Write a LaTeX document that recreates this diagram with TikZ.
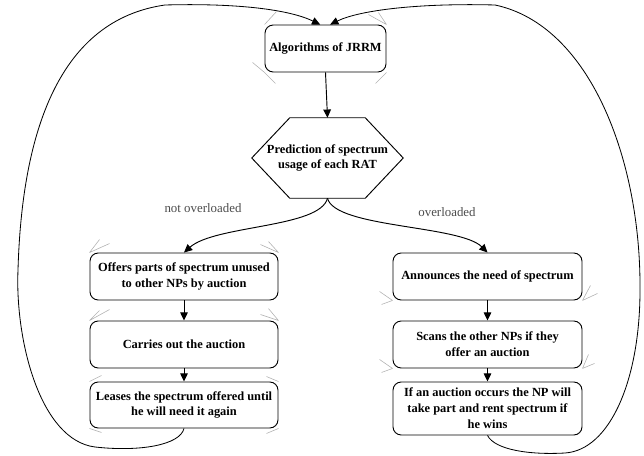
\documentclass[tikz,border=0pt]{standalone}
\usepackage{fontspec}
\setmainfont{Liberation Serif}
\usetikzlibrary{arrows.meta}

\tikzset{
  box/.style={draw, rounded corners=7pt, line width=0.8pt, align=center,
    font=\bfseries\fontsize{10.6}{13.6}\selectfont, inner sep=2pt},
  flow/.style={-{Triangle[length=7pt,width=6.5pt]}, line width=0.8pt},
  loopline/.style={flow, line width=0.7pt},
  branchlabel/.style={text=black!70, font=\fontsize{11}{13}\selectfont},
  tickmark/.style={gray!60, line width=0.5pt},
}

\begin{document}
\begin{tikzpicture}[x=0.03cm, y=-0.03cm]
  \useasboundingbox (0,0) rectangle (644,456);

  % main chain
  \node[box, minimum width=3.63cm, minimum height=1.41cm] (alg) at (325.5,48.5) {Algorithms of JRRM};
  \node[align=center, font=\bfseries\fontsize{10.6}{13.6}\selectfont, minimum width=4.53cm,
    minimum height=2.4cm, inner sep=0pt] (pred) at (327.5,158) {Prediction of spectrum\\usage of each RAT};
  \draw[line width=0.8pt] (pred.west) -- ([xshift=1.14cm]pred.north west) -- ([xshift=-1.14cm]pred.north east)
    -- (pred.east) -- ([xshift=-1.14cm]pred.south east) -- ([xshift=1.14cm]pred.south west) -- cycle;

  % left column
  \node[box, minimum width=5.64cm, minimum height=1.41cm] (offers) at (184,276.5) {Offers parts of spectrum unused\\to other NPs by auction};
  \node[box, minimum width=5.64cm, minimum height=1.41cm] (carries) at (184,344.5) {Carries out the auction};
  \node[box, minimum width=5.64cm, minimum height=1.38cm] (leases) at (184,405) {Leases the spectrum offered until\\he will need it again};

  % right column
  \node[box, minimum width=5.67cm, minimum height=1.41cm] (announce) at (487.5,276.5) {Announces the need of spectrum};
  \node[box, minimum width=5.67cm, minimum height=1.41cm] (scans) at (487.5,344.5) {Scans the other NPs if they\\offer an auction};
  \node[box, minimum width=5.67cm, minimum height=1.59cm] (rent) at (487.5,408.5) {If an auction occurs the NP will\\take part and rent spectrum if\\he wins};

  \node[branchlabel] (lblnot) at (203,208) {not overloaded};
  \node[branchlabel] (lblover) at (447,212) {overloaded};

  % arrows
  \draw[flow] (alg.south) -- (pred.north);
  \draw[flow] (pred.south) .. controls (320,228) and (215,225) .. (offers.north);
  \draw[flow] (pred.south) .. controls (335,228) and (460,225) .. (announce.north);
  \draw[flow] (offers) -- (carries);
  \draw[flow] (carries) -- (leases);
  \draw[flow] (announce) -- (scans);
  \draw[flow] (scans) -- (rent);

  % loops back to the top
  \draw[loopline] (leases.south) .. controls (180,445) and (140,452) .. (95,447)
    .. controls (40,440) and (15,340) .. (18,270)
    .. controls (22,130) and (60,20) .. (165,5)
    .. controls (240,3) and (290,10) .. ([xshift=-0.16cm]alg.north);
  \draw[loopline] (rent.south) .. controls (495,450) and (530,455) .. (565,453)
    .. controls (610,450) and (640,380) .. (640,290)
    .. controls (641,160) and (590,25) .. (495,5)
    .. controls (420,3) and (360,10) .. ([xshift=0.14cm]alg.north);

  % grey connection marks
  \draw[tickmark] (alg.north west) -- ++(12,-13);
  \draw[tickmark] (alg.north east) -- ++(-18,-10) (alg.north east) -- ++(-8,-12);
  \draw[tickmark] (alg.south west) -- ++(-12,-10) (alg.south west) -- ++(11,11);
  \draw[tickmark] (alg.south east) -- ++(-11,11);
  \draw[tickmark] (offers.north west) -- ++(10,-13) (offers.north west) -- ++(20,-9);
  \draw[tickmark] (offers.north east) -- ++(-18,-8) (offers.north east) -- ++(-10,-11);
  \draw[tickmark] (carries.north west) -- ++(10,-10) (carries.north west) -- ++(20,-11);
  \draw[tickmark] (carries.north east) -- ++(-10,-12) (carries.north east) -- ++(-18,-6);
  \draw[tickmark] (leases.north west) -- ++(12,-6);
  \draw[tickmark] (leases.north east) -- ++(-12,-5);
  \draw[tickmark] (leases.south west) -- ++(12,4);
  \draw[tickmark] (leases.south east) -- ++(-12,5);
  \draw[tickmark] (announce.south west) -- ++(-13,-9) (announce.south west) -- ++(-11,4);
  \draw[tickmark] (announce.south east) -- ++(8,-15) (announce.south east) -- ++(15,-7);
  \draw[tickmark] (scans.south west) -- ++(-13,-9) (scans.south west) -- ++(-11,4);
  \draw[tickmark] (scans.south east) -- ++(6,-14) (scans.south east) -- ++(12,-5);
\end{tikzpicture}
\end{document}
